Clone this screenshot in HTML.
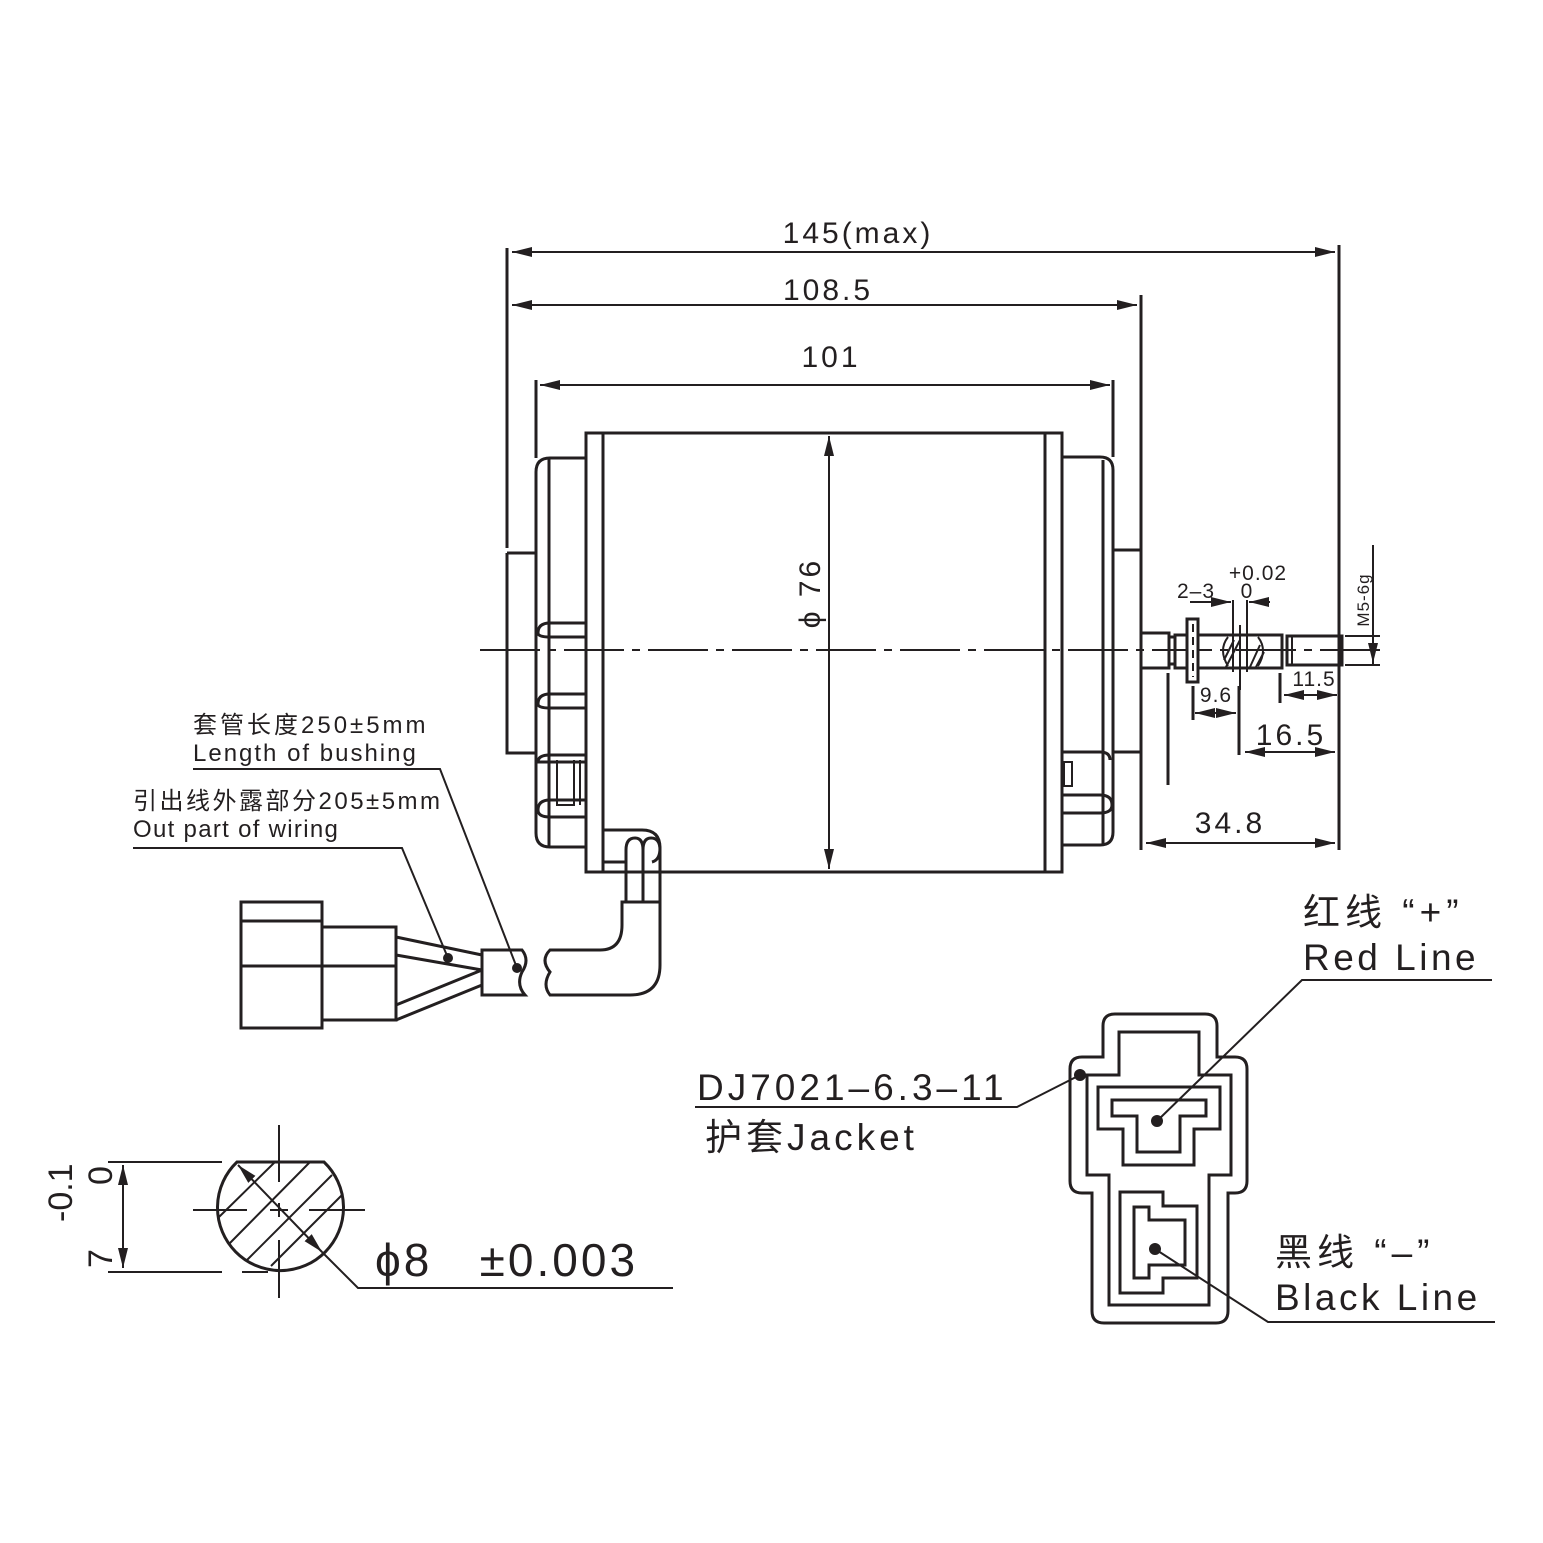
<!DOCTYPE html>
<html><head><meta charset="utf-8"><style>
html,body{margin:0;padding:0;background:#fff}
svg{display:block}
text{font-family:"Liberation Sans","Noto Sans CJK SC",sans-serif;fill:#231f20}
</style></head><body>
<svg width="1543" height="1543" viewBox="0 0 1543 1543" xmlns="http://www.w3.org/2000/svg">
<defs>
<marker id="a" viewBox="0 0 20 10" refX="20" refY="5" markerWidth="20" markerHeight="10" markerUnits="userSpaceOnUse" orient="auto-start-reverse"><path d="M0,0 L20,5 L0,10 Z" fill="#231f20"/></marker>
</defs>
<g stroke="#231f20" stroke-width="3" fill="none">
<path d="M480 650 H1380" stroke-width="2" stroke-dasharray="60 8 8 8"/>
<rect x="586" y="433" width="476" height="439"/>
<path d="M603 433 V872 M1045 433 V872"/>
<path d="M586 458 H550 Q536 458 536 472 V833 Q536 847 550 847 H586"/>
<path d="M549 458 V847"/>
<path d="M586 623 H550 Q538 623 538 633 Q538 637 550 637 H586"/>
<path d="M586 694 H550 Q538 694 538 704 Q538 708 550 708 H586"/>
<path d="M586 755 H550 Q538 755 538 762 H586"/>
<path d="M586 800 H550 Q538 800 538 810 Q538 817 550 817 H586"/>
<path d="M557 760 V805 H574 V760 M580 760 V805 M586 760 V805" stroke-width="2"/>
<path d="M507 248 V548 M507 553 H536 M507 553 V753 H536"/>
<path d="M536 380 V458"/>
<path d="M1062 457 H1100 Q1113 457 1113 470 V832 Q1113 845 1100 845 H1062"/>
<path d="M1103 460 V845"/>
<path d="M1062 752 H1100 Q1110 752 1110 760"/>
<path d="M1062 795 H1100 Q1112 795 1112 805 Q1112 813 1100 813 H1062"/>
<rect x="1064" y="762" width="8" height="24" stroke-width="2"/>
<path d="M1113 380 V457"/>
<path d="M1113 550 H1141 V752 H1113 M1141 295 V550 M1141 752 V850"/>
<rect x="1141" y="633" width="28" height="35"/>
<path d="M1169 637 H1175 V664 H1169"/>
<rect x="1175" y="635" width="107" height="33"/>
<rect x="1287" y="636" width="55" height="29"/>
<path d="M1292 636 V665" stroke-width="2"/>
<rect x="1187" y="619" width="11" height="63" fill="#fff"/>
<path d="M1193 624 V677" stroke-dasharray="8 5" stroke-width="2"/>
<path d="M1228 637 Q1218 650 1228 666 M1258 637 Q1268 650 1258 666" stroke-width="2"/>
<path d="M1224 660 L1234 640 M1226 667 L1240 640 M1250 667 L1260 645 M1256 667 L1264 652" stroke-width="2"/>
<path d="M1233 600 V672 M1247 600 V672 M1240 625 V690" stroke-width="2"/>
<path d="M1339 245 V850"/>
<path d="M512 252 H1335" stroke-width="2" marker-start="url(#a)" marker-end="url(#a)"/>
<path d="M512 305 H1137" stroke-width="2" marker-start="url(#a)" marker-end="url(#a)"/>
<path d="M540 385 H1110" stroke-width="2" marker-start="url(#a)" marker-end="url(#a)"/>
<path d="M829 436 V869" stroke-width="2" marker-start="url(#a)" marker-end="url(#a)"/>
<path d="M1146 843 H1335" stroke-width="2" marker-start="url(#a)" marker-end="url(#a)"/>
<path d="M1168 673 V785 M1239 686 V755 M1280 673 V703 M1193 686 V720"/>
<path d="M1245 752 H1335" stroke-width="2" marker-start="url(#a)" marker-end="url(#a)"/>
<path d="M1195 713 H1236" stroke-width="2" marker-start="url(#a)" marker-end="url(#a)"/>
<path d="M1284 695 H1337" stroke-width="2" marker-start="url(#a)" marker-end="url(#a)"/>
<path d="M1190 602 H1231" stroke-width="2" marker-end="url(#a)"/>
<path d="M1270 602 H1249" stroke-width="2" marker-end="url(#a)"/>
<path d="M1373 545 V665 M1345 636 H1380 M1345 665 H1380" stroke-width="2"/>
<path d="M1373 650 V638 M1373 650 V663" stroke-width="1.5" marker-end="url(#a)"/>
<path d="M603 830 H642 Q660 830 660 848 Q660 860 652 862"/>
<path d="M626 902 V850 Q626 838 635 838 Q643 838 643 850 V902 M643 850 Q643 838 651 838 Q660 838 660 850 V902" />
<path d="M603 862 H626" />
<path d="M622 902 H660 V965 Q660 995 630 995 H550 Q542 985 550 972 Q540 960 550 950 H600 Q622 950 622 925 Z" fill="#fff"/>
<path d="M482 950 H522 Q530 960 522 972 Q516 985 525 995 H482 Z"/>
<path d="M396 937 L482 955 M396 955 L482 970 M396 1005 L482 970 M396 1020 L482 985"/>
<rect x="241" y="902" width="81" height="126"/>
<path d="M241 921 H322 M241 966 H322"/>
<rect x="322" y="927" width="74" height="93"/>
<path d="M322 966 H396"/>
<path d="M193 769 H440 L517 968 M133 848 H402 L448 958" stroke-width="2"/>
<path d="M1115 1014 H1205 Q1217 1014 1217 1026 V1057 H1235 Q1247 1057 1247 1069 V1181 Q1247 1193 1235 1193 H1228 V1311 Q1228 1323 1216 1323 H1104 Q1092 1323 1092 1311 V1193 H1082 Q1070 1193 1070 1181 V1069 Q1070 1057 1082 1057 H1103 V1026 Q1103 1014 1115 1014 Z"/>
<path d="M1119 1032 H1199 V1075 H1231 V1175 H1209 V1305 H1109 V1175 H1087 V1075 H1119 Z"/>
<path d="M1098 1087 H1220 V1129 H1194 V1165 H1123 V1129 H1098 Z"/>
<path d="M1112 1100 H1206 V1116 H1180 V1152 H1137 V1116 H1112 Z"/>
<path d="M1120 1192 H1163 V1206 H1197 V1278 H1163 V1293 H1120 Z"/>
<path d="M1134 1207 H1149 V1220 H1185 V1265 H1149 V1278 H1134 Z"/>
<path d="M1157 1121 L1302 980 H1492 M1155 1249 L1268 1322 H1495 M1080 1075 L1017 1107 H695" stroke-width="2"/>
<path d="M237 1162 H324 A63 63 0 1 1 237 1162 Z"/>
<g stroke-width="2">
<path d="M219 1217 L275 1162 M229 1244 L310 1162 M247 1260 L332 1175 M271 1266 L343 1194"/>
<path d="M279 1125 V1182 M279 1203 V1217 M279 1240 V1298 M193 1210 H247 M270 1210 H288 M309 1210 H365"/>
<path d="M108 1162 H222 M108 1272 H222 M242 1272 H268"/>
<path d="M123 1165 V1268" marker-start="url(#a)" marker-end="url(#a)"/>
<path d="M238 1165 L322 1252" marker-start="url(#a)" marker-end="url(#a)"/>
<path d="M322 1252 L358 1288 H673"/>
</g>
</g>
<g fill="#231f20" stroke="none">
<circle cx="448" cy="958" r="5"/><circle cx="517" cy="968" r="5"/>
<circle cx="1157" cy="1121" r="6"/><circle cx="1155" cy="1249" r="6"/><circle cx="1080" cy="1075" r="6"/>
</g>
<g font-size="30" text-anchor="middle" letter-spacing="3">
<text x="858" y="243">145(max)</text>
<text x="828" y="300">108.5</text>
<text x="831" y="367">101</text>
<text x="1230" y="833">34.8</text>
<text x="1291" y="745">16.5</text>
<text x="820" y="593" transform="rotate(-90 820 593)">ϕ 76</text>
</g>
<g font-size="21" text-anchor="middle" letter-spacing="1">
<text x="1216" y="702">9.6</text>
<text x="1314" y="686">11.5</text>
<text x="1196" y="598">2–3</text>
<text x="1258" y="580">+0.02</text>
<text x="1247" y="598">0</text>
<text x="1369" y="600" font-size="17" transform="rotate(-90 1369 600)">M5-6g</text>
</g>
<g font-size="24">
<text x="193" y="733" letter-spacing="3">套管长度250±5mm</text>
<text x="193" y="761" letter-spacing="2">Length of bushing</text>
<text x="133" y="809" letter-spacing="2.5">引出线外露部分205±5mm</text>
<text x="133" y="837" letter-spacing="1.3">Out part of wiring</text>
</g>
<g font-size="37">
<text x="1303" y="925" letter-spacing="5">红线 “+”</text>
<text x="1303" y="970" letter-spacing="3.5">Red Line</text>
<text x="1275" y="1265" letter-spacing="5">黑线 “–”</text>
<text x="1275" y="1310" letter-spacing="3.5">Black Line</text>
<text x="697" y="1100" letter-spacing="4">DJ7021–6.3–11</text>
<text x="705" y="1150" letter-spacing="4">护套Jacket</text>
</g>
<text x="375" y="1276" font-size="46" letter-spacing="3" xml:space="preserve">ϕ8   ±0.003</text>
<g font-size="34">
<text x="72" y="1222" transform="rotate(-90 72 1222)">-0.1</text>
<text x="112" y="1185" transform="rotate(-90 112 1185)">0</text>
<text x="112" y="1268" transform="rotate(-90 112 1268)">7</text>
</g>
</svg>
</body></html>
